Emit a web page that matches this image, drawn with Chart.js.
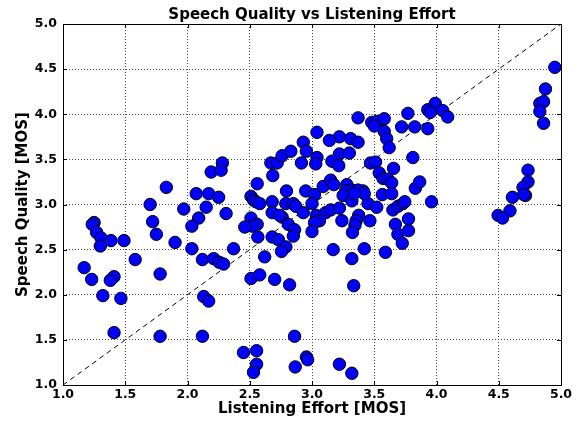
<!DOCTYPE html>
<html>
<head>
<meta charset="utf-8">
<script src="https://cdn.jsdelivr.net/npm/chart.js@4/dist/chart.umd.min.js"></script>
<style>
  html, body { margin: 0; padding: 0; background: #fff; }
  #wrap { width: 582px; height: 421px; }
</style>
</head>
<body>
<div id="wrap"><canvas id="scatterChart"></canvas></div>
<script>
// values
var listeningEffort = [
  1.83, 1.70, 1.97, 1.25, 1.235, 1.72, 1.27, 1.75, 1.305, 1.385,
  1.49, 1.30, 1.90, 1.58, 1.17, 1.78, 1.23, 1.41, 1.38, 1.32,
  1.465, 1.41, 1.78, 2.28, 2.19, 2.27, 2.67, 2.72, 2.76, 2.83,
  2.685, 2.56, 2.795, 2.07, 2.17, 2.25, 2.15, 2.31, 2.09, 2.035,
  2.51, 2.53, 2.55, 2.58, 2.68, 2.79, 2.85, 2.87, 2.68, 2.76,
  2.81, 2.51, 2.56, 2.52, 2.46, 2.86, 2.85, 2.68, 2.73, 2.565,
  2.035, 2.37, 2.79, 2.755, 2.62, 2.12, 2.21, 2.255, 2.29, 2.51,
  2.58, 2.70, 2.82, 2.13, 2.17, 2.12, 2.45, 2.555, 2.555, 2.53,
  2.86, 2.865, 3.335, 2.955, 2.965, 3.22, 3.32, 3.37, 3.48, 3.52,
  3.58, 3.50, 3.77, 3.72, 3.825, 3.58, 3.04, 3.60, 3.22, 3.14,
  3.31, 3.37, 2.93, 3.62, 2.955, 3.22, 3.30, 3.04, 2.915, 3.03,
  3.16, 3.215, 3.47, 3.51, 3.81, 3.655, 3.54, 3.57, 3.61, 3.64,
  3.83, 2.95, 3.02, 3.09, 3.15, 3.175, 3.28, 3.32, 3.27, 3.41,
  3.37, 3.565, 3.64, 3.25, 3.32, 3.45, 3.00, 3.52, 3.65, 3.69,
  3.73, 3.745, 2.74, 2.93, 3.035, 3.11, 3.15, 3.22, 3.06, 3.02,
  3.00, 3.24, 3.375, 3.355, 3.345, 3.325, 3.465, 3.67, 3.775, 3.69,
  3.775, 3.725, 3.17, 3.42, 3.32, 3.59, 4.875, 4.83, 4.86, 4.83,
  4.86, 3.99, 3.93, 3.95, 4.05, 4.09, 3.93, 3.865, 3.96, 4.735,
  4.735, 4.695, 4.715, 4.70, 4.61, 4.59, 4.495, 4.53, 4.95, 3.42,
  3.34
];
var speechQuality = [
  3.19, 3.00, 2.95, 2.80, 2.78, 2.81, 2.69, 2.67, 2.63, 2.60,
  2.60, 2.54, 2.58, 2.39, 2.30, 2.23, 2.17, 2.20, 2.16, 1.99,
  1.96, 1.58, 1.54, 3.46, 3.36, 3.38, 3.46, 3.46, 3.54, 3.59,
  3.32, 3.23, 3.15, 3.12, 3.12, 3.08, 2.97, 2.90, 2.85, 2.76,
  3.09, 3.05, 3.03, 3.01, 3.03, 3.01, 3.01, 2.98, 2.91, 2.86,
  2.78, 2.85, 2.78, 2.76, 2.75, 2.72, 2.65, 2.64, 2.61, 2.64,
  2.51, 2.51, 2.53, 2.48, 2.42, 2.39, 2.40, 2.36, 2.34, 2.18,
  2.22, 2.17, 2.11, 1.98, 1.93, 1.54, 1.36, 1.38, 1.23, 1.14,
  1.54, 1.20, 2.10, 1.31, 1.28, 1.23, 1.13, 3.96, 3.91, 3.92,
  3.95, 3.87, 4.01, 3.86, 3.86, 3.81, 3.80, 3.73, 3.75, 3.71,
  3.73, 3.69, 3.69, 3.63, 3.59, 3.56, 3.57, 3.52, 3.46, 3.45,
  3.48, 3.43, 3.46, 3.47, 3.52, 3.40, 3.35, 3.29, 3.28, 3.24,
  3.18, 3.15, 3.11, 3.20, 3.27, 3.22, 3.22, 3.16, 3.15, 3.15,
  3.16, 3.11, 3.12, 3.10, 3.04, 3.01, 3.01, 2.97, 2.94, 2.98,
  3.01, 3.03, 2.88, 2.91, 2.88, 2.91, 2.94, 2.96, 2.82, 2.80,
  2.70, 2.82, 2.88, 2.82, 2.77, 2.69, 2.82, 2.78, 2.84, 2.67,
  2.71, 2.57, 2.50, 2.51, 2.40, 2.47, 4.28, 4.12, 4.14, 4.03,
  3.90, 4.12, 4.05, 4.02, 4.04, 3.97, 3.84, 3.25, 3.03, 3.38,
  3.25, 3.19, 3.10, 3.11, 3.08, 2.93, 2.88, 2.85, 4.52, 3.12,
  3.12
];
var diagonal = [1, 5];
var tickValues = [1.0, 1.5, 2.0, 2.5, 3.0, 3.5, 4.0, 4.5, 5.0];

var points = [];
for (var i = 0; i < listeningEffort.length; i++) {
  points.push({x: listeningEffort[i], y: speechQuality[i]});
}
var diagPoints = diagonal.map(function(v){ return {x: v, y: v}; });

var fontFamily = "'DejaVu Sans', sans-serif";

// box around the plot plus small inward ticks (matplotlib classic look)
var framePlugin = {
  id: 'frame',
  afterDraw: function(chart) {
    var ctx = chart.ctx, a = chart.chartArea;
    var xs = chart.scales.x, ys = chart.scales.y;
    ctx.save();
    ctx.strokeStyle = '#000';
    ctx.lineWidth = 1;
    ctx.strokeRect(Math.round(a.left) + 0.5, Math.round(a.top) + 0.5,
      Math.round(a.right - a.left), Math.round(a.bottom - a.top));
    ctx.beginPath();
    tickValues.forEach(function(v){
      var px = Math.round(xs.getPixelForValue(v)) + 0.5;
      var py = Math.round(ys.getPixelForValue(v)) + 0.5;
      ctx.moveTo(px, a.bottom); ctx.lineTo(px, a.bottom - 4);
      ctx.moveTo(px, a.top); ctx.lineTo(px, a.top + 4);
      ctx.moveTo(a.left, py); ctx.lineTo(a.left + 4, py);
      ctx.moveTo(a.right, py); ctx.lineTo(a.right - 4, py);
    });
    ctx.stroke();
    ctx.restore();
  }
};

var ctx = document.getElementById("scatterChart");
var myChart = new Chart(ctx, {
  type: 'scatter',
  data: {
    datasets: [
      {
        label: 'ratings',
        data: points,
        backgroundColor: '#0000ff',
        borderColor: '#000000',
        borderWidth: 1,
        pointRadius: 6.2,
        order: 0
      },
      {
        type: 'line',
        label: 'y = x',
        data: diagPoints,
        borderColor: '#000000',
        borderWidth: 1,
        borderDash: [5, 4],
        pointRadius: 0,
        fill: false,
        order: 1
      }
    ]
  },
  options: {
    responsive: true,
    maintainAspectRatio: false,
    animation: false,
    layout: { padding: { left: 0, right: 21, top: 0, bottom: 0 } },
    plugins: {
      legend: { display: false },
      tooltip: { enabled: false },
      title: {
        display: true,
        text: 'Speech Quality vs Listening Effort',
        fullSize: false,
        color: '#000',
        font: { family: fontFamily, size: 15, weight: 'bold' },
        padding: { top: 6, bottom: 0 }
      }
    },
    scales: {
      x: {
        type: 'linear',
        min: 1, max: 5,
        afterFit: function(s){ s.height = 36; },
        afterBuildTicks: function(s){ s.ticks = tickValues.map(function(v){ return {value: v}; }); },
        ticks: {
          color: '#000',
          padding: 2,
          maxRotation: 0,
          font: { family: fontFamily, size: 12.5, weight: 'bold' },
          callback: function(v){ return Number(v).toFixed(1); }
        },
        grid: { color: '#444', drawTicks: false },
        border: { display: false, dash: [1, 2] },
        title: {
          display: true,
          text: 'Listening Effort [MOS]',
          color: '#000',
          font: { family: fontFamily, size: 15, weight: 'bold' },
          padding: { top: 0, bottom: 3 }
        }
      },
      y: {
        type: 'linear',
        min: 1, max: 5,
        afterFit: function(s){ s.width = 63; },
        afterBuildTicks: function(s){ s.ticks = tickValues.map(function(v){ return {value: v}; }); },
        ticks: {
          color: '#000',
          padding: 6,
          font: { family: fontFamily, size: 12.5, weight: 'bold' },
          callback: function(v){ return Number(v).toFixed(1); }
        },
        grid: { color: '#444', drawTicks: false },
        border: { display: false, dash: [1, 2] },
        title: {
          display: true,
          text: 'Speech Quality [MOS]',
          color: '#000',
          font: { family: fontFamily, size: 15, weight: 'bold' },
          padding: { top: 14, bottom: 0 }
        }
      }
    }
  },
  plugins: [framePlugin]
});
</script>
</body>
</html>
